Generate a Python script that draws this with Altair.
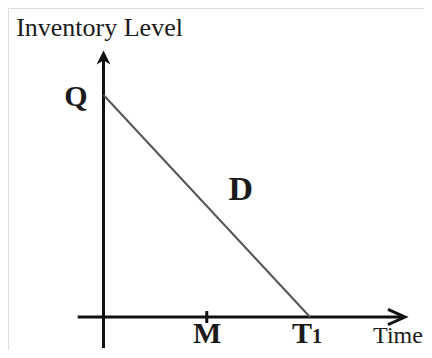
import altair as alt
import pandas as pd

# ---- values (abstract units) ----
line_time = [0.0, 2.0]      # Q at time 0, stock runs out at T1
line_level = [1.0, 0.0]     # inventory level Q -> 0
tick_time = [1.0]           # M
axis_time = [-0.25, 2.92]   # extent of the time axis
axis_level = [-0.14, 1.20]  # extent of the inventory axis

W, H = 416, 342
X = alt.Scale(domain=[-0.925, -0.925 + W / 103.25], nice=False, zero=False)
Y = alt.Scale(domain=[1.392 - H / 222.0, 1.392], nice=False, zero=False)
FONT = "Liberation Serif"

def xe(field="x"):
    return alt.X(f"{field}:Q", scale=X, axis=None)

def ye(field="y"):
    return alt.Y(f"{field}:Q", scale=Y, axis=None)

# axes
axes_df = pd.DataFrame({
    "x": [axis_time[0], 0.0],
    "x2": [axis_time[1] - 0.02, 0.0],
    "y": [0.0, axis_level[0]],
    "y2": [0.0, axis_level[1] - 0.03],
})
axes = alt.Chart(axes_df).mark_rule(color="#111111", strokeWidth=3).encode(
    x=xe(), x2="x2:Q", y=ye(), y2="y2:Q")

# demand line
line_df = pd.DataFrame({"x": line_time, "y": line_level})
dline = alt.Chart(line_df).mark_line(color="#555555", strokeWidth=2).encode(
    x=xe(), y=ye())

# M tick
tick_df = pd.DataFrame({"x": tick_time, "y": [-0.027], "y2": [0.027]})
tick = alt.Chart(tick_df).mark_rule(color="#111111", strokeWidth=3).encode(
    x=xe(), y=ye(), y2="y2:Q")

# arrowheads
xarrow = alt.Chart(pd.DataFrame({"x": [axis_time[1]], "y": [0.0]})).mark_point(
    shape="M -2 -0.9 L 0 0 L -2 0.9", size=289, filled=False,
    color="#111111", strokeWidth=3, opacity=1).encode(x=xe(), y=ye())
yarrow = alt.Chart(pd.DataFrame({"x": [0.0], "y": [axis_level[1]]})).mark_point(
    shape="M 0 0 L 1 2 L 0 1.4 L -1 2 Z", size=196, filled=True,
    color="#111111", opacity=1).encode(x=xe(), y=ye())

def label(text, x, y, dx, dy, size, weight="normal"):
    return alt.Chart(pd.DataFrame({"x": [x], "y": [y], "t": [text]})).mark_text(
        font=FONT, fontSize=size, fontWeight=weight, color="#1a1a1a",
        align="center", baseline="alphabetic", dx=dx, dy=dy).encode(
        x=xe(), y=ye(), text="t:N")

labels = [
    label("Inventory Level", 0.0, axis_level[1], -4, -15, 26),
    label("Q", 0.0, line_level[0], -27.5, 11, 30, "bold"),
    label("D", 1.0, 0.5, 34, -6, 34, "bold"),
    label("M", tick_time[0], 0.0, 0.5, 26, 30, "bold"),
    label("T", line_time[1], 0.0, -8, 26, 30, "bold"),
    label("1", line_time[1], 0.0, 7, 26, 20, "bold"),
    label("Time", axis_time[1], 0.0, -7, 26, 24),
]

chart = alt.layer(axes, dline, tick, xarrow, yarrow, *labels).properties(
    width=W, height=H,
    autosize=alt.AutoSizeParams(type="none"),
    padding=0,
).configure_view(stroke=None).configure(background="white")

chart.save("out.html", embed_options={"renderer": "svg", "actions": False})
